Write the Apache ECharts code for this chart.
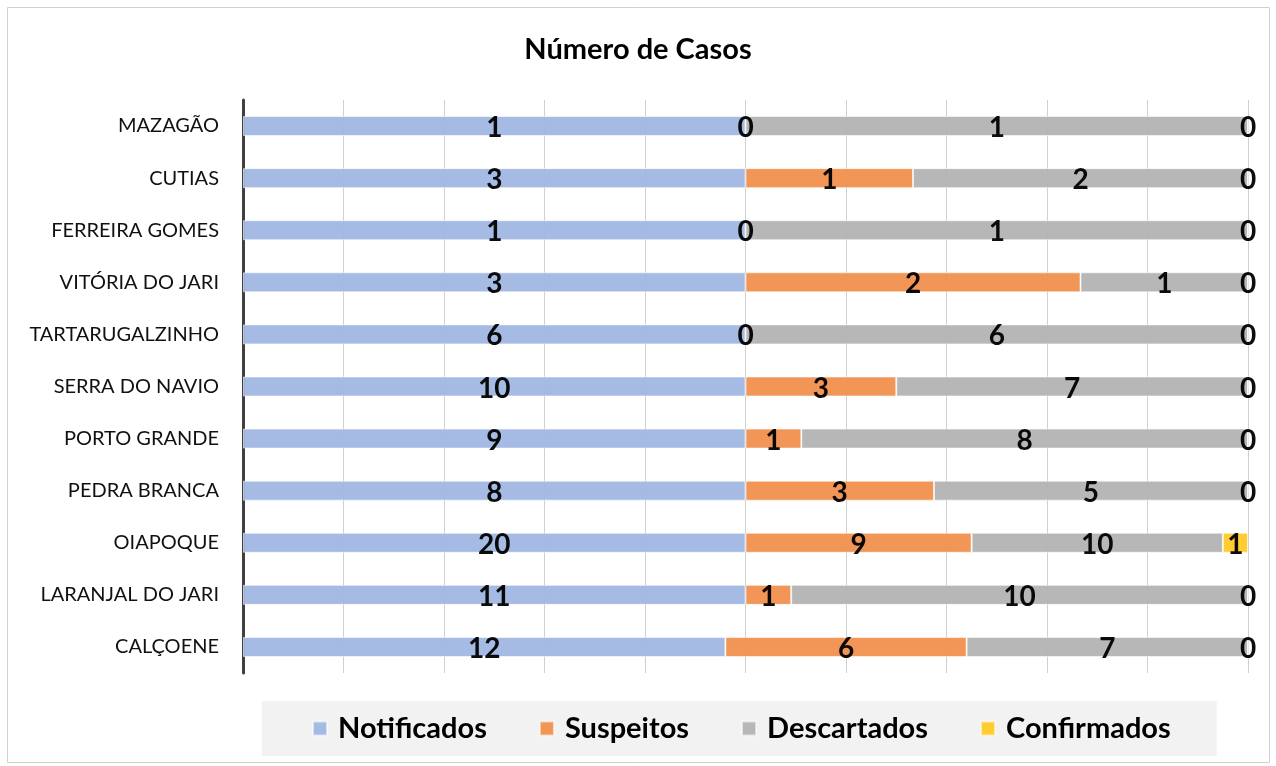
<!DOCTYPE html>
<html>
<head>
<meta charset="utf-8">
<script src="https://cdn.jsdelivr.net/npm/echarts@6/dist/echarts.min.js"></script>
<style>
  html, body { margin: 0; padding: 0; background: #fff; }
  #main { width: 1276px; height: 766px; }
</style>
</head>
<body>
<div id="main"></div>
<script>
// municipios, de cima para baixo
var municipios = ['MAZAGÃO', 'CUTIAS', 'FERREIRA GOMES', 'VITÓRIA DO JARI', 'TARTARUGALZINHO',
  'SERRA DO NAVIO', 'PORTO GRANDE', 'PEDRA BRANCA', 'OIAPOQUE', 'LARANJAL DO JARI', 'CALÇOENE'];
var notificados = [1, 3, 1, 3, 6, 10, 9, 8, 20, 11, 12];
var suspeitos   = [0, 1, 0, 2, 0, 3, 1, 3, 9, 1, 6];
var descartados = [1, 2, 1, 1, 6, 7, 8, 5, 10, 10, 7];
var confirmados = [0, 0, 0, 0, 0, 0, 0, 0, 1, 0, 0];

var nomes = ['Notificados', 'Suspeitos', 'Descartados', 'Confirmados'];
var cores = ['#A0B7E1', '#F0904E', '#B3B3B3', '#FFC926'];
var listas = [notificados, suspeitos, descartados, confirmados];

// 100% empilhado
var totais = municipios.map(function (m, i) {
  return notificados[i] + suspeitos[i] + descartados[i] + confirmados[i];
});

var fonte = 'Lato, "Open Sans", sans-serif';

var series = listas.map(function (lista, k) {
  return {
    name: nomes[k],
    type: 'bar',
    stack: 'total',
    barWidth: 20,
    data: lista.map(function (v, i) { return v / totais[i] * 100; }),
    itemStyle: { color: cores[k], opacity: 0.95, borderColor: 'rgba(255,255,255,0.6)', borderWidth: 1 },
    label: {
      show: true,
      position: 'inside',
      offset: [0, 2],
      color: '#000',
      fontSize: 28,
      fontWeight: 'bold',
      fontFamily: fonte,
      formatter: function (p) { return listas[p.seriesIndex][p.dataIndex]; }
    },
    z: 3
  };
});

var myChart = echarts.init(document.getElementById('main'));
myChart.setOption({
  animation: false,
  color: cores,
  title: {
    text: 'Número de Casos',
    left: 'center',
    top: 30,
    textStyle: { fontSize: 29, fontWeight: 'bold', color: '#000', fontFamily: fonte }
  },
  graphic: [{
    type: 'rect',
    shape: { x: 7.5, y: 7.5, width: 1262, height: 755 },
    style: { fill: 'none', stroke: '#D0D0D0', lineWidth: 1 },
    silent: true,
    z: -1
  }],
  grid: { left: 243, right: 28, top: 100, bottom: 93 },
  xAxis: {
    type: 'value',
    min: 0,
    max: 100,
    interval: 10,
    axisLabel: { show: false },
    axisLine: { show: false },
    axisTick: { show: false },
    splitLine: { show: true, lineStyle: { color: '#CFCFCF', width: 1 } }
  },
  yAxis: {
    type: 'category',
    inverse: true,
    data: municipios,
    axisLine: { show: true, lineStyle: { color: '#404040', width: 3 } },
    axisTick: { show: false },
    axisLabel: { fontSize: 20, color: '#111', fontFamily: fonte, margin: 24 }
  },
  legend: {
    bottom: 10,
    left: 262,
    data: nomes,
    itemWidth: 14,
    itemHeight: 14,
    itemGap: 52,
    backgroundColor: '#F2F2F2',
    padding: [13, 46, 13, 50],
    icon: 'rect',
    textStyle: { fontSize: 29, fontWeight: 'bold', color: '#000', fontFamily: fonte, padding: [0, 0, 0, 6] }
  },
  series: series
});
</script>
</body>
</html>
